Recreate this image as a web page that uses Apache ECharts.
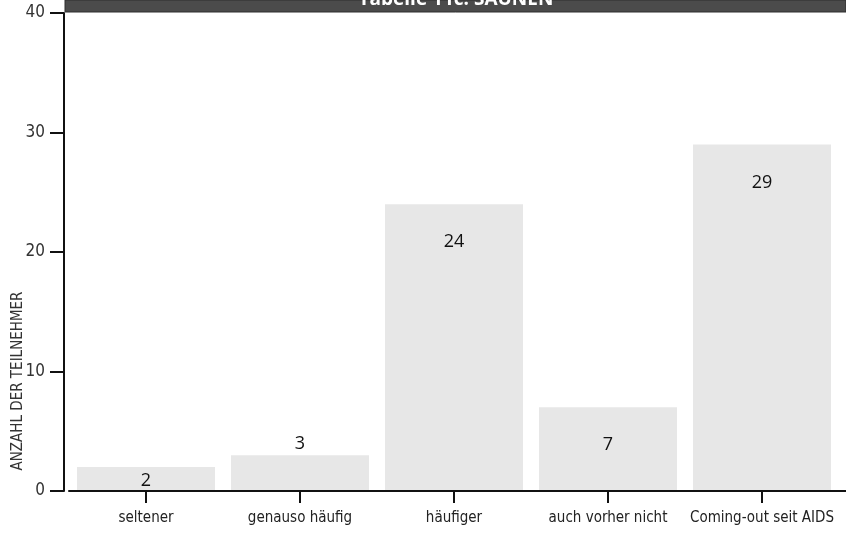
<!DOCTYPE html>
<html>
<head>
<meta charset="utf-8">
<script src="https://cdn.jsdelivr.net/npm/echarts@6/dist/echarts.min.js"></script>
<style>
  html, body { margin: 0; padding: 0; background: #fff; }
  #chart { width: 846px; height: 533px; }
</style>
</head>
<body>
<div id="chart"></div>
<script>
// Saunabesuche im Vergleich – Anzahl der Teilnehmer je Antwort
const categories = ['seltener', 'genauso häufig', 'häufiger', 'auch vorher nicht', 'Coming-out seit AIDS'];
const counts = [2, 3, 24, 7, 29];
const yTicks = { min: 0, max: 40, interval: 10 };
const titleText = 'Tabelle 11c: SAUNEN';
const yAxisTitle = 'ANZAHL DER TEILNEHMER';

const FONT = '"Liberation Sans Narrow", "DejaVu Sans Condensed", "Open Sans", sans-serif';

// value labels: tall bars carry the number well inside the top,
// short bars keep it near their top edge
function labelFor(v) {
  if (v >= 5) return { position: 'insideTop', distance: 29 };
  if (v >= 3) return { position: 'top', distance: 2 };
  return { position: 'insideTop', distance: 5 };
}

const barData = counts.map(v => ({ value: v, label: labelFor(v) }));

const chart = echarts.init(document.getElementById('chart'), null, { renderer: 'canvas' });
chart.setOption({
  animation: false,
  backgroundColor: '#ffffff',
  grid: { left: 69, right: 7, top: 13, bottom: 42, containLabel: false },
  xAxis: {
    type: 'category',
    data: categories,
    z: 5,
    axisLine: { show: true, lineStyle: { color: '#111', width: 2 } },
    axisTick: { show: true, alignWithLabel: true, interval: 0, length: 12, lineStyle: { color: '#111', width: 2 } },
    axisLabel: { interval: 0, color: '#222', fontSize: 15, fontFamily: FONT, margin: 20 },
    splitLine: { show: false }
  },
  yAxis: {
    type: 'value',
    min: yTicks.min,
    max: yTicks.max,
    interval: yTicks.interval,
    offset: 5,
    z: 5,
    axisLine: { show: true, lineStyle: { color: '#111', width: 2 } },
    axisTick: { show: true, length: 14, lineStyle: { color: '#111', width: 2 } },
    axisLabel: { color: '#333', fontSize: 17, fontFamily: FONT, margin: 19 },
    splitLine: { show: false }
  },
  series: [{
    type: 'bar',
    data: barData,
    barWidth: 138,
    itemStyle: { color: '#e7e7e7' },
    label: { show: true, color: '#111', fontSize: 18, fontFamily: '"Open Sans", sans-serif' }
  }],
  graphic: [
    {
      type: 'rect',
      shape: { x: 65, y: 0, width: 781, height: 12 },
      style: { fill: '#4b4b4b', stroke: '#2e2e2e', lineWidth: 1 },
      z: 10
    },
    {
      type: 'text',
      x: 456, y: 9,
      style: {
        text: titleText, fill: '#ffffff', font: 'bold 19px "Open Sans", sans-serif',
        textAlign: 'center', textVerticalAlign: 'bottom'
      },
      z: 11
    },
    {
      type: 'text',
      x: 18, y: 381,
      rotation: Math.PI / 2,
      style: {
        text: yAxisTitle, fill: '#333', font: '15px ' + FONT,
        textAlign: 'center', textVerticalAlign: 'middle'
      }
    }
  ]
});

// the baseline runs on to the right edge of the page
const baseY = chart.convertToPixel({ yAxisIndex: 0 }, yTicks.min);
const gridRight = chart.getWidth() - 7;
chart.setOption({
  graphic: [{
    id: 'baselineTail',
    type: 'line',
    shape: { x1: gridRight - 1, y1: baseY, x2: chart.getWidth(), y2: baseY },
    style: { stroke: '#111', lineWidth: 2 },
    z: 10
  }]
});
</script>
</body>
</html>
